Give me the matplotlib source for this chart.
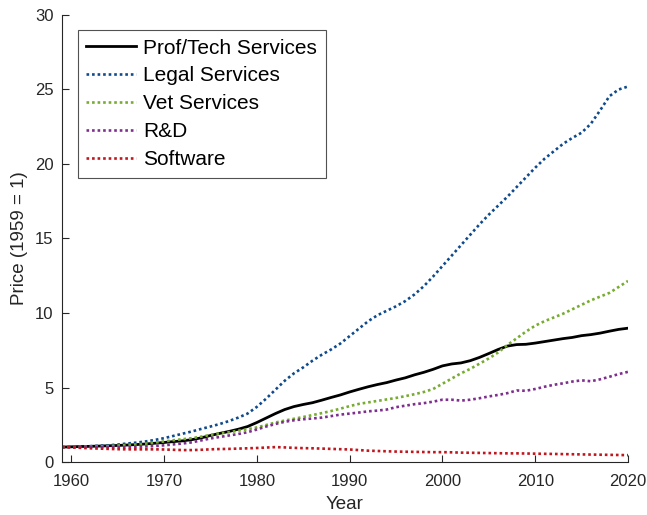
import numpy as np
import matplotlib
matplotlib.use('Agg')
import matplotlib.pyplot as plt

plt.rcParams['font.family'] = ['Liberation Sans', 'DejaVu Sans']

years = np.arange(1959, 2021)

prof_tech = [1.00, 1.02, 1.04, 1.05, 1.07, 1.09, 1.11, 1.14, 1.17, 1.21, 1.26,
             1.31, 1.37, 1.42, 1.50, 1.62, 1.78, 1.92, 2.05, 2.20, 2.38,
             2.65, 2.95, 3.25, 3.52, 3.72, 3.86, 3.98, 4.15, 4.33, 4.50,
             4.70, 4.88, 5.05, 5.20, 5.33, 5.50, 5.65, 5.85, 6.02, 6.22,
             6.45, 6.58, 6.65, 6.80, 7.02, 7.28, 7.55, 7.78, 7.88, 7.90,
             7.98, 8.08, 8.18, 8.28, 8.36, 8.48, 8.55, 8.65, 8.78, 8.90, 8.98]
legal = [1.00, 1.02, 1.04, 1.06, 1.09, 1.12, 1.17, 1.24, 1.30, 1.38, 1.48,
         1.60, 1.75, 1.90, 2.05, 2.22, 2.38, 2.55, 2.75, 2.98, 3.25,
         3.70, 4.25, 4.85, 5.45, 5.95, 6.35, 6.80, 7.20, 7.55, 7.95,
         8.45, 8.95, 9.45, 9.85, 10.15, 10.45, 10.80, 11.25, 11.80, 12.45,
         13.15, 13.85, 14.55, 15.25, 15.95, 16.60, 17.20, 17.80, 18.45, 19.10,
         19.75, 20.35, 20.85, 21.35, 21.75, 22.10, 22.70, 23.60, 24.55, 25.00, 25.20]
vet = [1.00, 1.01, 1.02, 1.03, 1.05, 1.07, 1.10, 1.14, 1.18, 1.23, 1.30,
       1.38, 1.46, 1.53, 1.60, 1.70, 1.82, 1.92, 2.00, 2.10, 2.20,
       2.32, 2.48, 2.65, 2.78, 2.90, 3.02, 3.15, 3.28, 3.42, 3.58,
       3.75, 3.90, 4.00, 4.10, 4.20, 4.30, 4.42, 4.55, 4.70, 4.90,
       5.25, 5.60, 5.95, 6.25, 6.60, 6.95, 7.35, 7.85, 8.30, 8.75,
       9.15, 9.45, 9.70, 9.95, 10.25, 10.55, 10.85, 11.10, 11.35, 11.75, 12.15]
rnd = [1.00, 1.00, 1.00, 1.00, 1.00, 1.00, 1.00, 1.00, 1.02, 1.04, 1.07,
       1.12, 1.18, 1.24, 1.32, 1.45, 1.58, 1.68, 1.78, 1.88, 2.00,
       2.18, 2.38, 2.55, 2.70, 2.80, 2.87, 2.92, 2.98, 3.08, 3.18,
       3.25, 3.32, 3.40, 3.45, 3.52, 3.68, 3.78, 3.88, 3.95, 4.05,
       4.18, 4.18, 4.12, 4.18, 4.28, 4.40, 4.50, 4.62, 4.80, 4.78,
       4.90, 5.05, 5.18, 5.28, 5.40, 5.48, 5.42, 5.55, 5.72, 5.90, 6.05]
software = [1.00, 0.98, 0.95, 0.92, 0.90, 0.88, 0.86, 0.85, 0.85, 0.85, 0.85,
            0.84, 0.82, 0.80, 0.80, 0.82, 0.85, 0.87, 0.88, 0.90, 0.92,
            0.94, 0.97, 1.00, 0.98, 0.95, 0.93, 0.92, 0.90, 0.88, 0.86,
            0.84, 0.80, 0.76, 0.74, 0.72, 0.70, 0.69, 0.68, 0.67, 0.66,
            0.66, 0.65, 0.63, 0.62, 0.61, 0.60, 0.59, 0.58, 0.58, 0.57,
            0.56, 0.55, 0.54, 0.53, 0.52, 0.51, 0.50, 0.49, 0.48, 0.47, 0.46]

fig = plt.figure(figsize=(6.47, 5.15), dpi=100)
ax = fig.add_axes([0.0958, 0.1029, 0.8748, 0.868])

dots = (0, (1, 1.1))
ax.plot(years, prof_tech, color='black', lw=2.0, label='Prof/Tech Services')
ax.plot(years, legal, color='#0E4A8C', lw=1.9, ls=dots, label='Legal Services')
ax.plot(years, vet, color='#77AC30', lw=1.9, ls=dots, label='Vet Services')
ax.plot(years, rnd, color='#7E2F8E', lw=1.9, ls=dots, label='R&D')
ax.plot(years, software, color='#C0161D', lw=1.9, ls=dots, label='Software')

ax.set_xlim(1959, 2020)
ax.set_ylim(0, 30)
ax.set_xticks(np.arange(1960, 2021, 10))
ax.set_yticks(np.arange(0, 31, 5))
ax.spines['top'].set_visible(False)
ax.spines['right'].set_visible(False)
for s in ('left', 'bottom'):
    ax.spines[s].set_color('#262626')
ax.tick_params(direction='in', length=5, labelsize=12, colors='#262626')
ax.tick_params(axis='x', pad=8.5)
ax.tick_params(axis='y', pad=6)
ax.set_xlabel('Year', fontsize=13.5, color='#262626', labelpad=5)
ax.set_ylabel('Price (1959 = 1)', fontsize=13.5, color='#262626', labelpad=5)

leg = ax.legend(loc='upper left', fontsize=15, frameon=True, fancybox=False,
                edgecolor='#262626', handlelength=2.4, handletextpad=0.35,
                borderpad=0.4, labelspacing=0.43, borderaxespad=0,
                bbox_to_anchor=(0.028, 0.966))
leg.get_frame().set_linewidth(0.8)

fig.savefig('out.png', dpi=100)
